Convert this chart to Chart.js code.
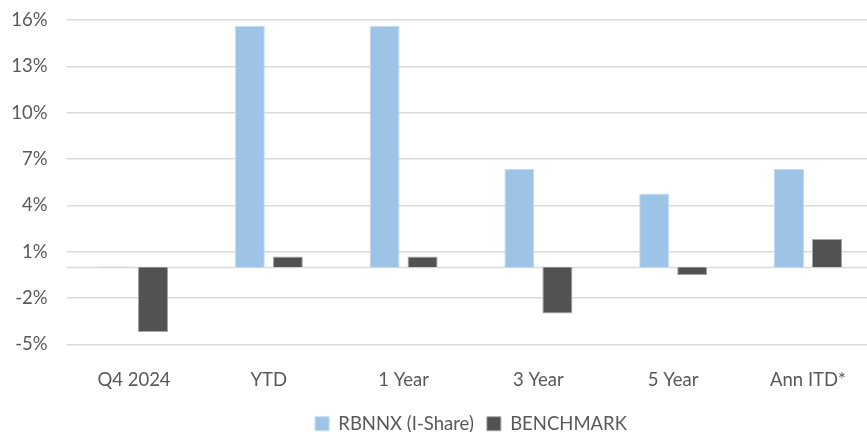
<!DOCTYPE html>
<html>
<head>
<meta charset="utf-8">
<script src="https://cdn.jsdelivr.net/npm/chart.js@4"></script>
<style>
  html, body { margin: 0; padding: 0; background: #fff; overflow: hidden; }
  #wrap { width: 890px; height: 432px; }
</style>
</head>
<body>
<div id="wrap"><canvas id="perf-chart" width="890" height="432"></canvas></div>
<script>
const categories = ["Q4 2024", "YTD", "1 Year", "3 Year", "5 Year", "Ann ITD*"];
const rbnnxReturns = [0.05, 15.63, 15.63, 6.35, 4.77, 6.35];
const benchmarkReturns = [-4.19, 0.69, 0.69, -3.0, -0.52, 1.83];
const yMin = -5;
const yMax = 16;
const yStep = 3;

const textColor = "#595959";
const gridColor = "#d9d9d9";
const fontSize = 18.5;

// line at 0%, Excel puts the category axis there
const zeroLine = {
  id: "zeroLine",
  beforeDatasetsDraw(chart) {
    const { ctx, chartArea, scales } = chart;
    const y = Math.round(scales.y.getPixelForValue(0)) + 0.5;
    ctx.save();
    ctx.strokeStyle = gridColor;
    ctx.lineWidth = 1.5;
    ctx.beginPath();
    ctx.moveTo(chartArea.left, y);
    ctx.lineTo(chartArea.right, y);
    ctx.stroke();
    ctx.restore();
  }
};

const ctx = document.getElementById("perf-chart").getContext("2d");
new Chart(ctx, {
  type: "bar",
  data: {
    labels: categories,
    datasets: [
      {
        label: "RBNNX (I-Share)",
        data: rbnnxReturns,
        backgroundColor: "#9dc3e6",
        borderColor: "#c6dcf1",
        borderWidth: 1,
      },
      {
        label: "BENCHMARK",
        data: benchmarkReturns,
        backgroundColor: "#525252",
        borderColor: "#a6a6a6",
        borderWidth: 1,
      },
    ],
  },
  options: {
    responsive: false,
    animation: false,
    categoryPercentage: 0.564,
    barPercentage: 0.79,
    layout: { padding: { top: 20, right: 14.6, left: 0, bottom: -11 } },
    plugins: {
      legend: {
        position: "bottom",
        fullSize: false,
        labels: {
          color: textColor,
          font: { family: "Lato", size: fontSize },
          boxWidth: 14,
          boxHeight: 14,
          padding: 13,
        },
      },
      tooltip: { enabled: false },
    },
    scales: {
      x: {
        grid: { display: false },
        border: { display: false },
        ticks: {
          color: textColor,
          font: { family: "Lato", size: fontSize },
          padding: 16,
        },
        afterFit(scale) { scale.height = 57; },
      },
      y: {
        min: yMin,
        max: yMax,
        ticks: {
          stepSize: yStep,
          color: textColor,
          font: { family: "Lato", size: fontSize },
          padding: 19,
          callback: v => v + "%",
        },
        grid: { color: gridColor, lineWidth: 1.5, drawTicks: false },
        border: { display: false },
        afterFit(scale) {
          scale.width = 66.6;
          scale.paddingTop = 0;
          scale.paddingBottom = 0;
        },
      },
    },
  },
  plugins: [zeroLine],
});
</script>
</body>
</html>
